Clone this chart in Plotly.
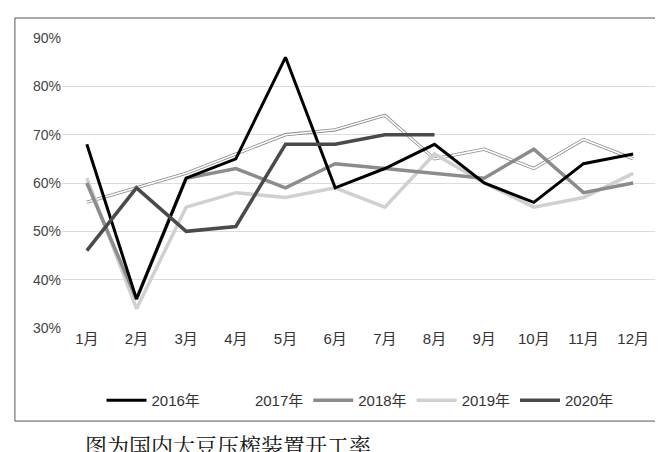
import plotly.graph_objects as go

months = ["1月","2月","3月","4月","5月","6月","7月","8月","9月","10月","11月","12月"]
y2016 = [68,36,61,65,86,59,63,68,60,56,64,66]
y2017 = [56,59,62,66,70,71,74,65,67,63,69,65]
y2018 = [60,36,61,63,59,64,63,62,61,67,58,60]
y2019 = [61,34,55,58,57,59,55,66,60,55,57,62]
y2020 = [46,59,50,51,68,68,70,70]

fig = go.Figure()
fig.add_trace(go.Scatter(x=months, y=y2017, mode="lines", line=dict(color="#888", width=3.2), showlegend=False, hoverinfo="skip"))
fig.add_trace(go.Scatter(x=months, y=y2017, mode="lines", name="2017年", line=dict(color="white", width=1.6)))
fig.add_trace(go.Scatter(x=months, y=y2019, mode="lines", name="2019年", line=dict(color="#d0d0d0", width=3.5)))
fig.add_trace(go.Scatter(x=months, y=y2018, mode="lines", name="2018年", line=dict(color="#8c8c8c", width=3.5)))
fig.add_trace(go.Scatter(x=months, y=y2016, mode="lines", name="2016年", line=dict(color="#000", width=3)))
fig.add_trace(go.Scatter(x=months[:len(y2020)], y=y2020, mode="lines", name="2020年", line=dict(color="#4a4a4a", width=3.5)))

order = {"2016年":1,"2017年":2,"2018年":3,"2019年":4,"2020年":5}
for t in fig.data:
    if t.name in order:
        t.legendrank = order[t.name]

fig.update_layout(
    width=663, height=452, paper_bgcolor="white", plot_bgcolor="white",
    margin=dict(l=54, r=13, t=30, b=132, autoexpand=False),
    font=dict(family="Liberation Sans Narrow, Liberation Sans, Noto Sans CJK SC", size=13, color="#444"),
    xaxis=dict(range=[-0.5, 11.5], showgrid=False, showline=False, ticks="", automargin=False,
               tickfont=dict(size=15, color="#333")),
    yaxis=dict(range=[30, 90], dtick=10, ticksuffix="%", gridcolor="#dcdcdc", gridwidth=1, zeroline=False,
               automargin=False, tickfont=dict(size=14, color="#444")),
    legend=dict(orientation="h", x=0.5, xanchor="center", y=-0.25, yanchor="middle",
                font=dict(size=15, color="#333"), itemwidth=40, traceorder="normal"),
    shapes=[dict(type="rect", xref="paper", yref="paper", x0=-0.079, x1=1.008, y0=-0.321, y1=1.069,
                 line=dict(color="#555", width=1))],
    annotations=[dict(text="图为国内大豆压榨装置开工率", xref="paper", yref="paper", x=0.035, y=-0.40,
                      xanchor="left", yanchor="middle", showarrow=False,
                      font=dict(family="Noto Serif CJK SC, Noto Sans CJK SC", size=22, color="#111"))],
)
fig.write_html("out.html")
